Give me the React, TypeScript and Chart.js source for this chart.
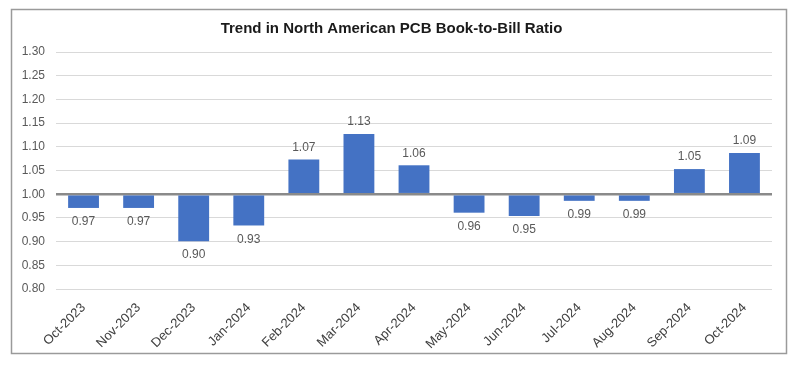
import React, { useEffect, useRef } from "react";
import { Chart, registerables } from "chart.js";

Chart.register(...registerables);

const categories = [
  "Oct-2023", "Nov-2023", "Dec-2023", "Jan-2024", "Feb-2024", "Mar-2024", "Apr-2024",
  "May-2024", "Jun-2024", "Jul-2024", "Aug-2024", "Sep-2024", "Oct-2024",
];
const ratios = [0.971, 0.971, 0.901, 0.934, 1.073, 1.127, 1.061, 0.961, 0.954, 0.986, 0.986, 1.053, 1.087];
const baseline = 1.0;
const yMin = 0.8;
const yMax = 1.3;
const yStep = 0.05;
const titleText = "Trend in North American PCB Book-to-Bill Ratio";

const FONT = "'Liberation Sans', Arial, sans-serif";

const framePlugin = {
  id: "frame",
  beforeDraw(chart: any) {
    const ctx = chart.ctx;
    ctx.save();
    ctx.fillStyle = "#ffffff";
    ctx.fillRect(0, 0, chart.width, chart.height);
    ctx.strokeStyle = "#9a9a9a";
    ctx.lineWidth = 1.5;
    ctx.strokeRect(11.5, 9.5, 775, 344);
    ctx.restore();
  },
};

const labelPlugin = {
  id: "valueLabels",
  afterDatasetsDraw(chart: any) {
    const ctx = chart.ctx;
    const meta = chart.getDatasetMeta(0);
    ctx.save();
    ctx.font = `12px ${FONT}`;
    ctx.fillStyle = "#595959";
    ctx.textAlign = "center";
    ctx.textBaseline = "middle";
    meta.data.forEach((bar: any, i: number) => {
      const v = ratios[i];
      const txt = v.toFixed(2);
      const yTop = Math.min(bar.y, bar.base);
      const yBot = Math.max(bar.y, bar.base);
      if (v >= baseline) {
        ctx.fillText(txt, bar.x, yTop - 12);
      } else {
        ctx.fillText(txt, bar.x, yBot + 14);
      }
    });
    ctx.restore();
  },
};

export default function App() {
  const ref = useRef<HTMLCanvasElement>(null);
  useEffect(() => {
    document.body.style.margin = "0";
    const chart = new Chart(ref.current!, {
      type: "bar",
      data: {
        labels: categories,
        datasets: [
          {
            data: ratios,
            base: baseline,
            backgroundColor: "#4472C4",
            borderWidth: 0,
            barPercentage: 0.56,
            categoryPercentage: 1,
          } as any,
        ],
      },
      options: {
        responsive: false,
        animation: false,
        layout: { padding: { left: 11, right: 28, top: 10, bottom: 0 } },
        plugins: {
          legend: { display: false },
          tooltip: { enabled: false },
          title: {
            display: true,
            text: titleText,
            color: "#1a1a1a",
            font: { family: FONT, size: 15, weight: "bold" },
            padding: { top: 10, bottom: 14 },
          },
        },
        scales: {
          x: {
            grid: { display: false, drawTicks: false },
            border: { display: false },
            ticks: {
              color: "#404040",
              font: { family: FONT, size: 13 },
              minRotation: 45,
              maxRotation: 45,
              padding: 11,
            },
            afterFit(scale: any) {
              scale.height = 76;
            },
          },
          y: {
            min: yMin,
            max: yMax,
            grid: {
              drawTicks: false,
              color: (c: any) => (Math.abs(c.tick?.value - baseline) < 1e-6 ? "#8a8a8a" : "#d9d9d9"),
              lineWidth: (c: any) => (Math.abs(c.tick?.value - baseline) < 1e-6 ? 2.5 : 1),
            },
            border: { display: false },
            ticks: {
              stepSize: yStep,
              padding: 11,
              color: "#595959",
              font: { family: FONT, size: 12 },
              callback: (v: any) => Number(v).toFixed(2),
            },
            afterFit(scale: any) {
              scale.width = 45;
            },
          },
        },
      },
      plugins: [framePlugin, labelPlugin],
    });
    return () => chart.destroy();
  }, []);
  return (
    <div style={{ position: "absolute", left: 0, top: 0, width: 800, height: 365, background: "#fff" }}>
      <canvas ref={ref} width={800} height={365} />
    </div>
  );
}
